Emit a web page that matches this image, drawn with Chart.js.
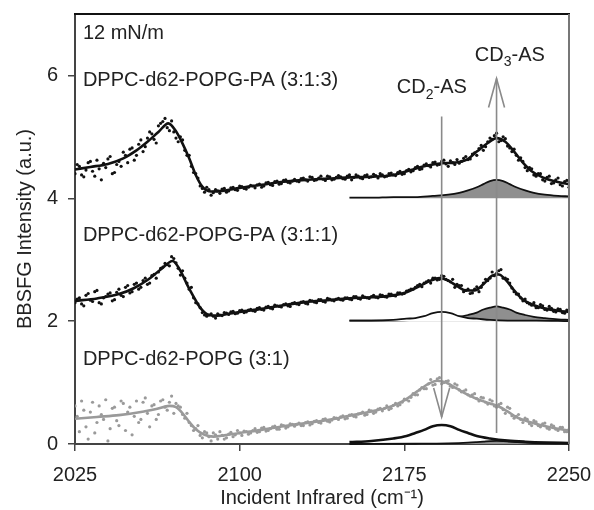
<!DOCTYPE html>
<html><head><meta charset="utf-8">
<script src="https://cdn.jsdelivr.net/npm/chart.js@4.4.1/dist/chart.umd.min.js"></script>
<style>html,body{margin:0;padding:0;background:#fff}#wrap{width:594px;height:510px}</style>
</head><body><div id="wrap"><canvas id="c" width="594" height="510"></canvas></div>
<script>
// ---- data ----
const xGrid = [
 2025,2027,2029,2031,2033,2035,2037,2039,2041,2043,
 2045,2047,2049,2051,2053,2055,2057,2059,2061,2063,
 2065,2067,2069,2071,2073,2075,2077,2079,2081,2083,
 2085,2087,2089,2091,2093,2095,2097,2099,2101,2103,
 2105,2107,2109,2111,2113,2115,2117,2119,2121,2123,
 2125,2127,2129,2131,2133,2135,2137,2139,2141,2143,
 2145,2147,2149,2151,2153,2155,2157,2159,2161,2163,
 2165,2167,2169,2171,2173,2175,2177,2179,2181,2183,
 2185,2187,2189,2191,2193,2195,2197,2199,2201,2203,
 2205,2207,2209,2211,2213,2215,2217,2219,2221,2223,
 2225,2227,2229,2231,2233,2235,2237,2239,2241,2243,
 2245,2247,2249];
const xGrid2 = [
 2026,2028,2030,2032,2034,2036,2038,2040,2042,2044,
 2046,2048,2050,2052,2054,2056,2058,2060,2062,2064,
 2066,2068,2070,2072,2074,2076,2078,2080,2082,2084,
 2086,2088,2090,2092,2094,2096,2098,2100,2102,2104,
 2106,2108,2110,2112,2114,2116,2118,2120,2122,2124,
 2126,2128,2130,2132,2134,2136,2138,2140,2142,2144,
 2146,2148,2150,2152,2154,2156,2158,2160,2162,2164,
 2166,2168,2170,2172,2174,2176,2178,2180,2182,2184,
 2186,2188,2190,2192,2194,2196,2198,2200,2202,2204,
 2206,2208,2210,2212,2214,2216,2218,2220,2222,2224,
 2226,2228,2230,2232,2234,2236,2238,2240,2242,2244,
 2246,2248,2250];
const dots313 = [
 4.40,4.52,4.35,4.58,4.44,4.62,4.30,4.50,4.68,4.42,
 4.60,4.75,4.58,4.82,4.70,4.95,4.84,5.08,4.96,5.18,
 5.25,5.15,5.26,4.98,5.00,4.78,4.70,4.42,4.33,4.16,
 4.18,4.05,4.14,4.08,4.16,4.12,4.18,4.13,4.19,4.15,
 4.21,4.17,4.23,4.20,4.26,4.21,4.28,4.24,4.30,4.25,
 4.31,4.27,4.33,4.28,4.34,4.30,4.36,4.29,4.35,4.31,
 4.37,4.32,4.36,4.30,4.38,4.33,4.37,4.34,4.39,4.33,
 4.38,4.36,4.41,4.37,4.44,4.40,4.47,4.45,4.52,4.48,
 4.56,4.51,4.59,4.55,4.62,4.52,4.58,4.63,4.60,4.68,
 4.64,4.74,4.81,4.78,4.92,4.96,5.06,4.94,4.97,4.82,
 4.80,4.62,4.60,4.45,4.48,4.36,4.40,4.28,4.36,4.25,
 4.33,4.20,4.29];
const dots313b = [
 4.55,4.38,4.46,4.60,4.36,4.48,4.57,4.64,4.40,4.55,
 4.52,4.70,4.80,4.62,4.88,4.76,4.98,5.05,4.90,5.22,
 5.30,5.10,5.08,4.92,4.95,4.70,4.52,4.40,4.20,4.10,
 4.14,4.09,4.12,4.15,4.10,4.17,4.14,4.20,4.16,4.18,
 4.20,4.22,4.18,4.25,4.22,4.27,4.23,4.29,4.26,4.28,
 4.28,4.32,4.30,4.35,4.29,4.33,4.31,4.36,4.30,4.34,
 4.35,4.31,4.38,4.34,4.36,4.32,4.38,4.35,4.37,4.40,
 4.35,4.40,4.38,4.42,4.39,4.45,4.43,4.50,4.47,4.54,
 4.53,4.58,4.54,4.60,4.56,4.61,4.55,4.57,4.65,4.63,
 4.72,4.70,4.86,4.84,4.98,5.02,4.92,5.00,4.85,4.76,
 4.70,4.66,4.50,4.50,4.38,4.40,4.30,4.34,4.24,4.30,
 4.22,4.27,4.18];
const dots311 = [
 2.30,2.38,2.25,2.45,2.32,2.50,2.28,2.40,2.46,2.35,
 2.52,2.40,2.58,2.48,2.62,2.55,2.70,2.62,2.76,2.80,
 2.88,2.92,3.05,2.95,2.75,2.70,2.52,2.38,2.28,2.14,
 2.08,2.12,2.05,2.10,2.14,2.11,2.16,2.13,2.18,2.15,
 2.19,2.16,2.22,2.18,2.24,2.20,2.25,2.23,2.28,2.24,
 2.30,2.27,2.32,2.28,2.33,2.30,2.35,2.31,2.36,2.33,
 2.37,2.34,2.38,2.35,2.40,2.36,2.39,2.37,2.42,2.38,
 2.42,2.39,2.44,2.41,2.46,2.45,2.50,2.52,2.58,2.56,
 2.64,2.62,2.70,2.68,2.73,2.66,2.68,2.60,2.58,2.50,
 2.45,2.52,2.48,2.62,2.66,2.80,2.78,2.84,2.70,2.62,
 2.48,2.44,2.33,2.30,2.26,2.22,2.27,2.19,2.24,2.16,
 2.20,2.14,2.18];
const dots311b = [
 2.36,2.28,2.42,2.34,2.48,2.30,2.38,2.44,2.33,2.47,
 2.42,2.55,2.46,2.60,2.52,2.66,2.60,2.74,2.70,2.86,
 2.94,2.90,3.02,2.86,2.82,2.62,2.55,2.30,2.22,2.10,
 2.10,2.08,2.12,2.09,2.13,2.15,2.12,2.17,2.14,2.18,
 2.17,2.21,2.19,2.23,2.21,2.26,2.24,2.27,2.25,2.29,
 2.28,2.31,2.29,2.34,2.31,2.35,2.32,2.37,2.34,2.36,
 2.35,2.38,2.36,2.40,2.37,2.41,2.38,2.40,2.39,2.43,
 2.40,2.44,2.42,2.46,2.44,2.49,2.52,2.55,2.60,2.62,
 2.66,2.70,2.67,2.74,2.68,2.64,2.55,2.58,2.48,2.52,
 2.46,2.56,2.55,2.68,2.70,2.74,2.82,2.70,2.68,2.54,
 2.44,2.38,2.36,2.28,2.30,2.22,2.25,2.18,2.21,2.15,
 2.19,2.13,2.17];
const dots31 = [
 0.62,0.20,0.55,0.08,0.68,0.35,0.48,0.72,0.25,0.60,
 0.30,0.66,0.52,0.15,0.70,0.40,0.75,0.28,0.64,0.48,
 0.72,0.55,0.78,0.66,0.60,0.42,0.35,0.22,0.30,0.10,
 0.18,0.05,0.15,0.20,0.08,0.16,0.12,0.22,0.14,0.20,
 0.18,0.25,0.20,0.27,0.22,0.28,0.24,0.31,0.26,0.33,
 0.29,0.34,0.30,0.36,0.33,0.38,0.34,0.41,0.36,0.43,
 0.40,0.46,0.42,0.48,0.44,0.50,0.47,0.55,0.50,0.57,
 0.54,0.62,0.58,0.66,0.64,0.73,0.70,0.82,0.80,0.92,
 0.90,1.05,0.97,1.08,1.00,1.03,0.92,0.96,0.85,0.88,
 0.78,0.82,0.70,0.75,0.65,0.70,0.60,0.66,0.50,0.58,
 0.42,0.48,0.35,0.40,0.30,0.36,0.28,0.34,0.24,0.29,
 0.22,0.27,0.20];
const dots31b = [
 0.45,0.70,0.28,0.52,0.18,0.62,0.40,0.05,0.58,0.38,
 0.70,0.22,0.60,0.45,0.35,0.68,0.50,0.62,0.40,0.70,
 0.60,0.68,0.50,0.62,0.48,0.50,0.30,0.25,0.14,0.20,
 0.12,0.18,0.08,0.14,0.10,0.19,0.15,0.18,0.21,0.16,
 0.22,0.19,0.26,0.21,0.25,0.29,0.24,0.30,0.28,0.32,
 0.32,0.30,0.35,0.31,0.37,0.35,0.40,0.37,0.39,0.42,
 0.44,0.41,0.47,0.45,0.49,0.52,0.48,0.54,0.52,0.58,
 0.58,0.56,0.63,0.62,0.68,0.72,0.76,0.80,0.88,0.90,
 0.98,0.96,1.06,0.98,1.02,0.94,0.98,0.88,0.86,0.80,
 0.80,0.74,0.76,0.68,0.72,0.62,0.64,0.56,0.60,0.46,
 0.45,0.40,0.42,0.33,0.38,0.30,0.33,0.26,0.31,0.24,
 0.27,0.20,0.24];

const fit313X = [2025,2032,2040,2047,2053,2058,2063,2067.5,2071,2074,2077,2080,2083,2087,2092,2100,2110,2120,2130,2140,2150,2160,2170,2178,2185,2192,2198,2203,2208,2213,2217,2221,2225,2229,2233,2238,2243,2250];
const fit313Y = [4.47,4.51,4.56,4.65,4.78,4.92,5.08,5.22,5.09,4.89,4.65,4.38,4.19,4.11,4.12,4.17,4.22,4.27,4.30,4.32,4.34,4.35,4.38,4.46,4.53,4.57,4.58,4.62,4.76,4.90,4.98,4.92,4.76,4.58,4.44,4.34,4.28,4.23];
const fit311X = [2025,2035,2045,2052,2058,2064,2069.5,2073,2076,2079,2082,2086,2090,2095,2100,2110,2120,2130,2140,2150,2160,2170,2176,2182,2187,2191,2195,2199,2203,2207,2211,2215,2218,2221,2225,2229,2234,2240,2245,2250];
const fit311Y = [2.33,2.37,2.44,2.54,2.67,2.84,2.98,2.82,2.60,2.40,2.22,2.10,2.09,2.12,2.15,2.20,2.26,2.31,2.34,2.37,2.39,2.42,2.47,2.57,2.66,2.70,2.66,2.57,2.50,2.50,2.60,2.74,2.76,2.68,2.50,2.35,2.26,2.20,2.17,2.15];
const fit31X = [2025,2035,2045,2055,2062,2068,2071,2074,2077,2080,2084,2088,2093,2100,2110,2120,2130,2140,2150,2160,2168,2175,2181,2186,2190,2194,2199,2204,2209,2214,2218,2222,2226,2231,2237,2243,2250];
const fit31Y = [0.41,0.44,0.47,0.52,0.57,0.62,0.60,0.50,0.36,0.24,0.15,0.12,0.14,0.18,0.23,0.29,0.34,0.39,0.46,0.53,0.60,0.71,0.86,0.98,1.03,1.00,0.90,0.80,0.72,0.66,0.61,0.53,0.44,0.37,0.31,0.26,0.22];

// fitted band components
const topCD3X = [2150,2160,2170,2180,2188,2195,2200,2204,2208,2211,2214,2217,2220,2223,2226,2230,2234,2239,2245,2250];
const topCD3Y = [4.01,4.01,4.02,4.02,4.04,4.06,4.09,4.13,4.18,4.23,4.28,4.30,4.28,4.23,4.18,4.13,4.09,4.06,4.04,4.03];
const midCD2X = [2150,2160,2170,2176,2180,2184,2188,2192,2196,2200,2204,2208,2214,2222,2235,2250];
const midCD2Y = [2.01,2.01,2.02,2.04,2.05,2.08,2.13,2.15,2.13,2.08,2.05,2.04,2.02,2.01,2.01,2.00];
const midCD3X = [2150,2160,2170,2180,2188,2195,2200,2204,2208,2211,2214,2217,2220,2223,2226,2230,2234,2239,2245,2250];
const midCD3Y = [2.01,2.01,2.01,2.02,2.03,2.05,2.07,2.10,2.14,2.19,2.22,2.24,2.22,2.19,2.14,2.10,2.07,2.05,2.03,2.02];
const botCD2X = [2150,2160,2170,2176,2180,2184,2188,2192,2196,2200,2204,2208,2214,2222,2230,2240,2250];
const botCD2Y = [0.03,0.05,0.09,0.13,0.18,0.23,0.29,0.31,0.29,0.23,0.18,0.13,0.09,0.055,0.037,0.024,0.017];
const botCD3X = [2150,2180,2195,2204,2208,2211,2214,2217,2220,2223,2226,2230,2239,2250];
const botCD3Y = [0.00,0.004,0.01,0.021,0.03,0.038,0.047,0.05,0.047,0.038,0.03,0.021,0.01,0.005];
const baseTop = 4, baseMid = 2, baseBot = 0;

// marker lines (wavenumber, top value, bottom value)
const markerX = [2192, 2217];
const markerTop = [5.33, 5.95];
const markerBottom = [0.44, 0.18];
const markerArrow = ['down', 'up'];

const xTicks = [2025, 2100, 2175, 2250];
const yTicks = [0, 2, 4, 6];
const seriesNames = ['DPPC-d62-POPG-PA (3:1:3)', 'DPPC-d62-POPG-PA (3:1:1)', 'DPPC-d62-POPG (3:1)'];

// ---- build ----
const pts = (xs, ys) => xs.map((x, i) => ({x, y: ys[i]}));
const FONT = '"Liberation Sans", Arial, sans-serif';
const TXT = '#222';
const GRAY = '#9a9a9a';

const fitLine = (xs, ys, color) => ({type:'line', data: pts(xs, ys), borderColor: color, borderWidth: 2.6,
  pointRadius: 0, cubicInterpolationMode: 'monotone', fill: false, clip: false});
const dotSet = (xs, ys, color) => ({type:'scatter', data: pts(xs, ys), backgroundColor: color, borderWidth: 0,
  pointRadius: 1.6, showLine: false});
const comp = (xs, ys, base, fillColor, width) => ({type:'line', data: pts(xs, ys), borderColor: '#111', borderWidth: width,
  pointRadius: 0, cubicInterpolationMode: 'monotone', clip: false,
  fill: fillColor ? {value: base} : false, backgroundColor: fillColor || 'transparent'});

const datasets = [
  fitLine(fit313X, fit313Y, '#111'),
  fitLine(fit311X, fit311Y, '#111'),
  fitLine(fit31X, fit31Y, GRAY),
  dotSet(xGrid, dots313, '#111'),
  dotSet(xGrid2, dots313b, '#111'),
  dotSet(xGrid, dots311, '#111'),
  dotSet(xGrid2, dots311b, '#111'),
  dotSet(xGrid, dots31, GRAY),
  dotSet(xGrid2, dots31b, GRAY),
  comp(topCD3X, topCD3Y, baseTop, '#8f8f8f', 1.8),
  comp(midCD2X, midCD2Y, baseMid, '#ffffff', 1.8),
  comp(midCD3X, midCD3Y, baseMid, '#8f8f8f', 1.8),
  comp(botCD2X, botCD2Y, baseBot, null, 2.6),
  comp(botCD3X, botCD3Y, baseBot, '#8f8f8f', 1.8),
];

const annot = {
  id: 'annot',
  afterDatasetsDraw(chart) {
    const {ctx, chartArea: ca, scales: {x, y}} = chart;
    ctx.save();
    // markers
    ctx.strokeStyle = '#8a8a8a';
    ctx.lineWidth = 1.6;
    markerX.forEach((mx, i) => {
      const px = x.getPixelForValue(mx);
      const pt = y.getPixelForValue(markerTop[i]);
      const pb = y.getPixelForValue(markerBottom[i]);
      ctx.beginPath(); ctx.moveTo(px, pt); ctx.lineTo(px, pb); ctx.stroke();
      ctx.beginPath();
      if (markerArrow[i] === 'up') {
        ctx.moveTo(px - 8, pt + 29); ctx.lineTo(px, pt); ctx.lineTo(px + 8, pt + 29);
      } else {
        ctx.moveTo(px - 8, pb - 29); ctx.lineTo(px, pb); ctx.lineTo(px + 8, pb - 29);
      }
      ctx.stroke();
    });
    // frame: top and right
    ctx.lineWidth = 2;
    ctx.strokeStyle = '#111';
    ctx.beginPath(); ctx.moveTo(ca.left - 1, ca.top); ctx.lineTo(ca.right + 1, ca.top); ctx.stroke();
    ctx.strokeStyle = '#777';
    ctx.beginPath(); ctx.moveTo(ca.right, ca.top); ctx.lineTo(ca.right, ca.bottom); ctx.stroke();
    // texts
    ctx.fillStyle = TXT;
    ctx.font = '20px ' + FONT;
    ctx.textBaseline = 'middle';
    ctx.textAlign = 'left';
    const tx = x.getPixelForValue(2028.6);
    ctx.fillText('12 mN/m', tx, y.getPixelForValue(6.68));
    ctx.fillText(seriesNames[0], tx, y.getPixelForValue(5.91));
    ctx.fillText(seriesNames[1], tx, y.getPixelForValue(3.40));
    ctx.fillText(seriesNames[2], tx, y.getPixelForValue(1.37));
    const sub = (left, cy, a, s, b) => {
      ctx.font = '20px ' + FONT;
      ctx.fillText(a, left, cy);
      let w = ctx.measureText(a).width;
      ctx.font = '14px ' + FONT;
      ctx.fillText(s, left + w, cy + 7);
      w += ctx.measureText(s).width;
      ctx.font = '20px ' + FONT;
      ctx.fillText(b, left + w, cy);
    };
    sub(x.getPixelForValue(2171.6), y.getPixelForValue(5.80), 'CD', '2', '-AS');
    sub(x.getPixelForValue(2207.1), y.getPixelForValue(6.33), 'CD', '3', '-AS');
    ctx.restore();
  }
};

new Chart(document.getElementById('c'), {
  data: {datasets},
  options: {
    responsive: false, animation: false, devicePixelRatio: 1,
    layout: {padding: {top: 14, right: 25, left: 0, bottom: 0}},
    plugins: {legend: {display: false}, tooltip: {enabled: false}},
    scales: {
      x: {type: 'linear', min: 2025, max: 2250,
        afterBuildTicks: s => { s.ticks = xTicks.map(v => ({value: v})); },
        afterFit: s => { s.height = 66; s.paddingLeft = 0; s.paddingRight = 0; },
        ticks: {font: {family: FONT, size: 20}, color: TXT, padding: 12, maxRotation: 0,
          callback: v => String(v)},
        grid: {drawOnChartArea: false, drawTicks: true, tickLength: 7, color: '#444', lineWidth: 1.5},
        border: {display: true, color: '#444', width: 2},
        title: {display: true, text: 'Incident Infrared (cm⁻¹)', font: {family: FONT, size: 20}, color: TXT,
          padding: {top: 0, bottom: 0}}
      },
      y: {type: 'linear', min: 0, max: 7,
        afterBuildTicks: s => { s.ticks = yTicks.map(v => ({value: v})); },
        afterFit: s => { s.width = 75; s.paddingTop = 0; s.paddingBottom = 0; },
        ticks: {font: {family: FONT, size: 20}, color: TXT, padding: 10},
        grid: {drawOnChartArea: false, drawTicks: true, tickLength: 7, color: '#444', lineWidth: 1.5},
        border: {display: true, color: '#444', width: 2},
        title: {display: true, text: 'BBSFG Intensity (a.u.)', font: {family: FONT, size: 20}, color: TXT,
          padding: {top: 13, bottom: 0}}
      }
    }
  },
  plugins: [annot]
});
</script>
</body></html>
